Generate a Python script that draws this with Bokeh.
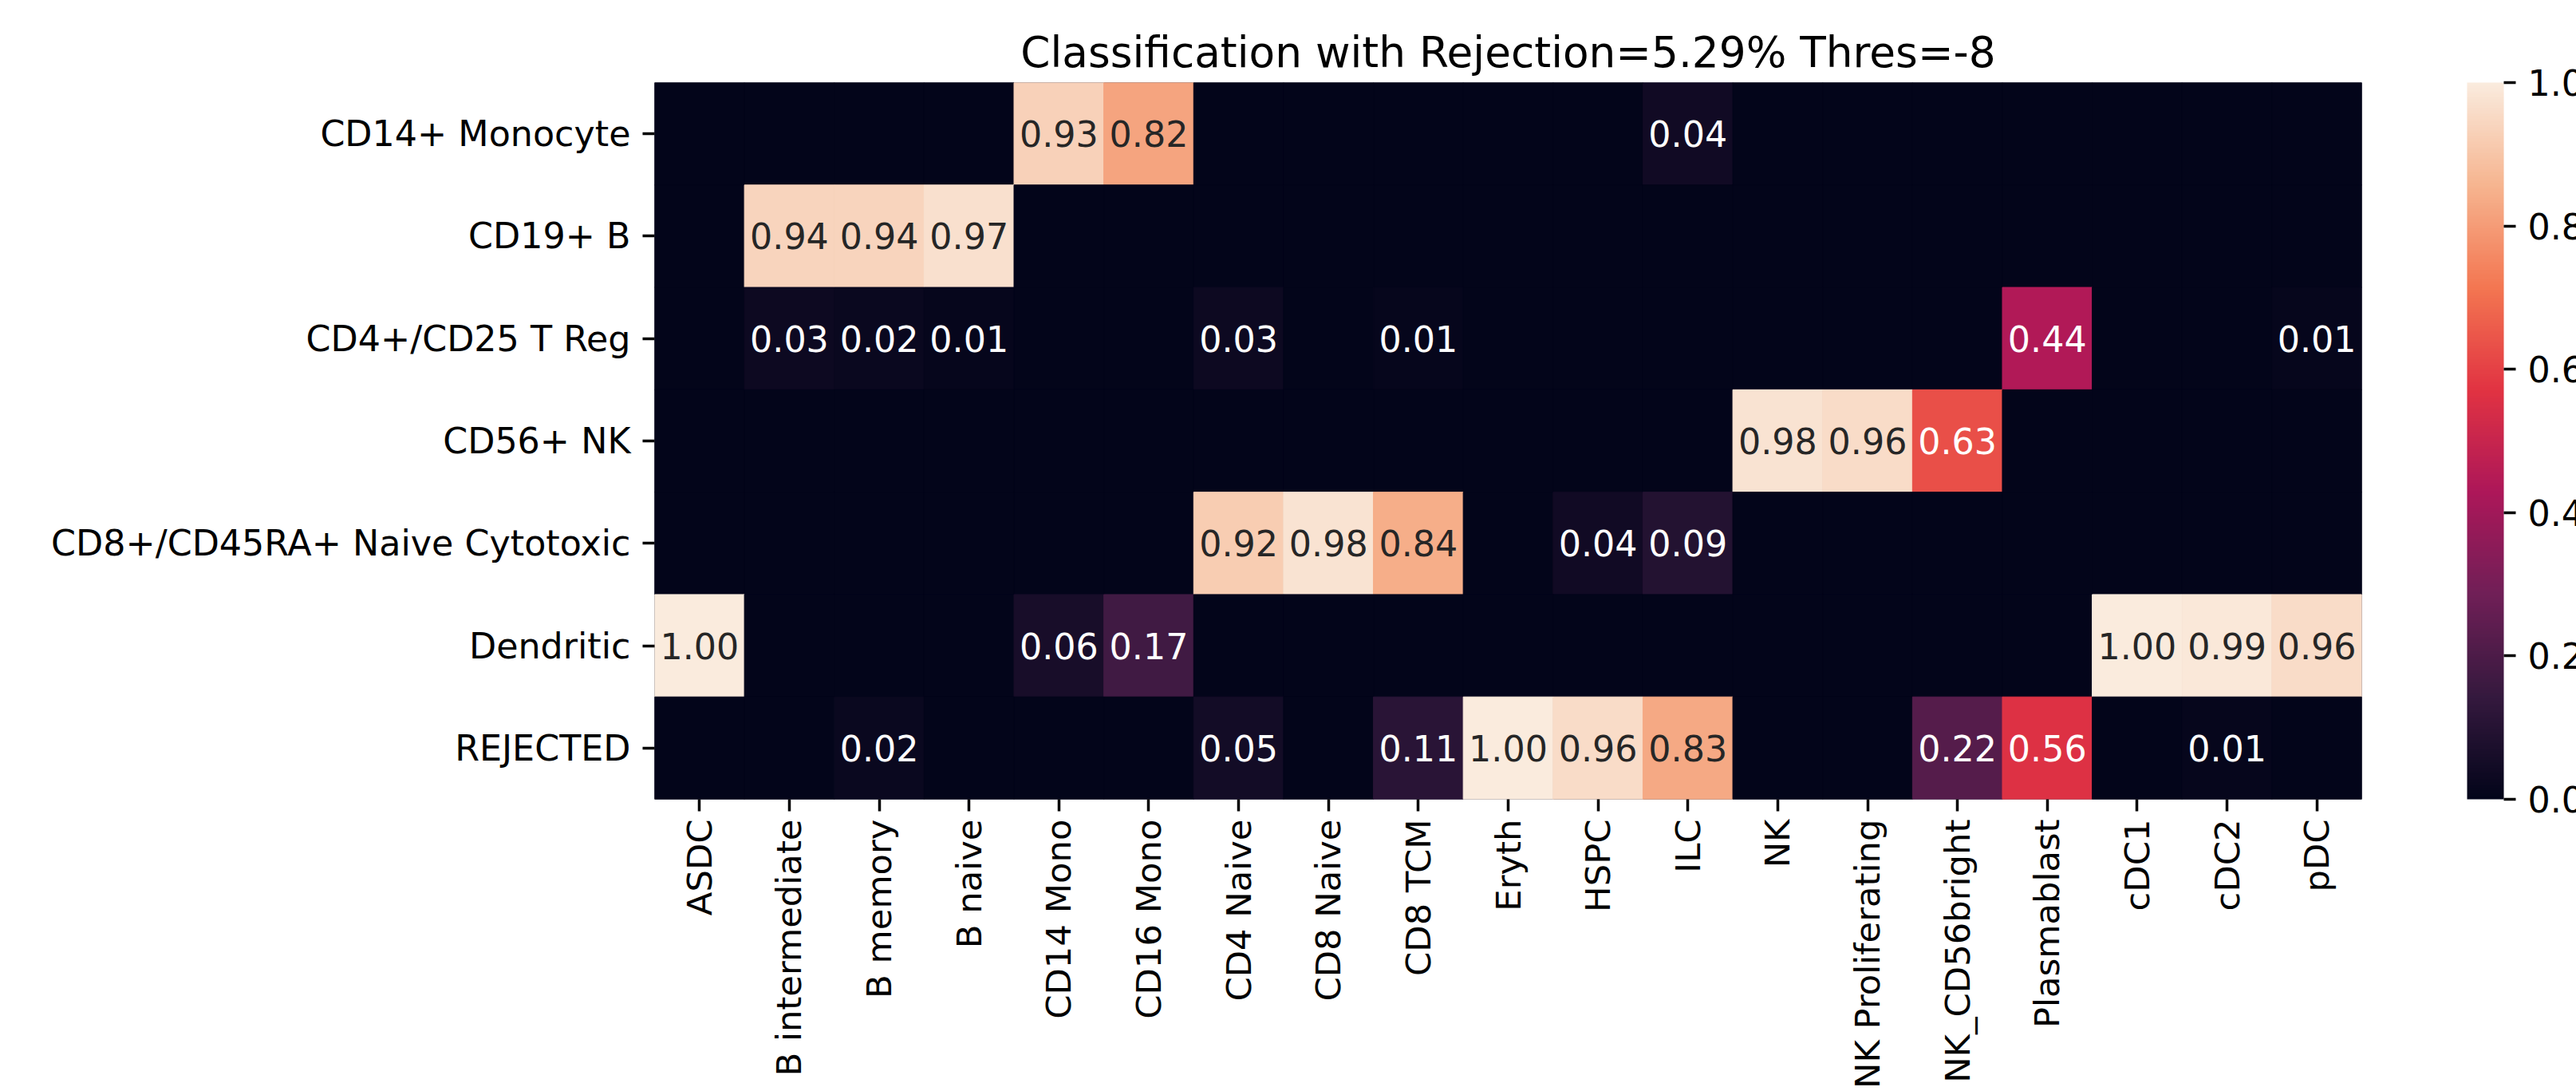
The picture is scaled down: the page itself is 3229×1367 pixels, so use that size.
import numpy as np
from bokeh.plotting import figure
from bokeh.models import (ColumnDataSource, LinearColorMapper, ColorBar, FixedTicker,
                          FactorRange, PrintfTickFormatter)
from bokeh.transform import transform
from bokeh.core.properties import value
from bokeh.embed import file_html
from bokeh.resources import INLINE

title_text = "Classification with Rejection=5.29% Thres=-8"

rows = ["CD14+ Monocyte", "CD19+ B", "CD4+/CD25 T Reg", "CD56+ NK",
        "CD8+/CD45RA+ Naive Cytotoxic", "Dendritic", "REJECTED"]
cols = ["ASDC", "B intermediate", "B memory", "B naive", "CD14 Mono", "CD16 Mono",
        "CD4 Naive", "CD8 Naive", "CD8 TCM", "Eryth", "HSPC", "ILC", "NK",
        "NK Proliferating", "NK_CD56bright", "Plasmablast", "cDC1", "cDC2", "pDC"]

cd14_monocyte = [0, 0, 0, 0, 0.93, 0.82, 0, 0, 0, 0, 0, 0.04, 0, 0, 0, 0, 0, 0, 0]
cd19_b        = [0, 0.94, 0.94, 0.97, 0, 0, 0, 0, 0, 0, 0, 0, 0, 0, 0, 0, 0, 0, 0]
cd4_treg      = [0, 0.03, 0.02, 0.01, 0, 0, 0.03, 0, 0.01, 0, 0, 0, 0, 0, 0, 0.44, 0, 0, 0.01]
cd56_nk       = [0, 0, 0, 0, 0, 0, 0, 0, 0, 0, 0, 0, 0.98, 0.96, 0.63, 0, 0, 0, 0]
cd8_naive     = [0, 0, 0, 0, 0, 0, 0.92, 0.98, 0.84, 0, 0.04, 0.09, 0, 0, 0, 0, 0, 0, 0]
dendritic     = [1.00, 0, 0, 0, 0.06, 0.17, 0, 0, 0, 0, 0, 0, 0, 0, 0, 0, 1.00, 0.99, 0.96]
rejected      = [0, 0, 0.02, 0, 0, 0, 0.05, 0, 0.11, 1.00, 0.96, 0.83, 0, 0, 0.22, 0.56, 0, 0.01, 0]

matrix = [cd14_monocyte, cd19_b, cd4_treg, cd56_nk, cd8_naive, dendritic, rejected]

cbar_ticks = [0.0, 0.2, 0.4, 0.6, 0.8, 1.0]

# approximate seaborn "rocket" colormap
anchor_pos = [0.0, 1/7, 2/7, 3/7, 4/7, 5/7, 6/7, 1.0]
anchor_hex = ["#03051a", "#35193e", "#701f57", "#ad1759", "#e13342", "#f37651", "#f6b48f", "#faebdd"]

def hex2rgb(h):
    return [int(h[i:i + 2], 16) for i in (1, 3, 5)]

anchor_rgb = np.array([hex2rgb(h) for h in anchor_hex], dtype=float)
grid = np.linspace(0, 1, 256)
pal_rgb = np.stack([np.interp(grid, anchor_pos, anchor_rgb[:, k]) for k in range(3)], axis=1)
palette = ["#%02x%02x%02x" % tuple(int(round(c)) for c in rgb) for rgb in pal_rgb]

def lum(rgb):
    c = np.array(rgb) / 255.0
    c = np.where(c <= 0.03928, c / 12.92, ((c + 0.055) / 1.055) ** 2.4)
    return 0.2126 * c[0] + 0.7152 * c[1] + 0.0722 * c[2]

xs, ys, vals, labels, tcolors = [], [], [], [], []
for r, rowvals in zip(rows, matrix):
    for c, v in zip(cols, rowvals):
        xs.append(c)
        ys.append(r)
        vals.append(v)
        labels.append("%.2f" % v if v > 0 else "")
        idx = int(round(v * 255))
        tcolors.append("#262626" if lum(pal_rgb[idx]) > 0.408 else "white")

src = ColumnDataSource(dict(x=xs, y=ys, v=vals, lab=labels, tc=tcolors))

mapper = LinearColorMapper(palette=palette, low=0.0, high=1.0)

FONT = "DejaVu Sans"
FS = "44.4px"

FRAME_W, FRAME_H = 2140, 898
W, H = 3229, 1367
LEFT, TOP = 820, 103

p = figure(width=W, height=H,
           x_range=FactorRange(*cols, range_padding=0),
           y_range=FactorRange(*reversed(rows), range_padding=0),
           output_backend="svg", toolbar_location=None,
           min_border_left=LEFT, min_border_right=W - LEFT - FRAME_W,
           min_border_top=TOP, min_border_bottom=H - TOP - FRAME_H)

p.title.text = title_text
p.title.align = "center"
p.title.text_font = FONT
p.title.text_font_size = "53.3px"
p.title.text_font_style = "normal"
p.title.text_color = "black"
p.title.standoff = 14

p.background_fill_color = "#03051a"
p.border_fill_color = "white"
p.outline_line_color = None
p.grid.grid_line_color = None

p.rect(x="x", y="y", width=1, height=1, source=src,
       fill_color=transform("v", mapper), line_color=transform("v", mapper), line_width=1)

p.text(x="x", y="y", text="lab", source=src, text_color="tc",
       text_align="center", text_baseline="middle",
       text_font=value(FONT), text_font_size=value(FS))

for ax in (p.xaxis[0], p.yaxis[0]):
    ax.axis_line_color = None
    ax.major_tick_in = 0
    ax.major_tick_out = 15
    ax.major_tick_line_color = "black"
    ax.major_tick_line_width = 3.5
    ax.minor_tick_line_color = None
    ax.major_label_text_font = FONT
    ax.major_label_text_font_size = FS
    ax.major_label_text_color = "black"
    ax.major_label_standoff = 15

p.xaxis.major_label_orientation = np.pi / 2
p.xaxis.major_label_text_font_size = "43.3px"
p.xaxis.major_label_standoff = 10

cb = ColorBar(color_mapper=mapper, ticker=FixedTicker(ticks=cbar_ticks),
              formatter=PrintfTickFormatter(format="%.1f"),
              width=46, height=FRAME_H, location=(FRAME_W + 132, 0), padding=0, margin=0,
              major_tick_in=0, major_tick_out=15, major_tick_line_color="black",
              major_tick_line_width=3.5, minor_tick_line_color=None,
              bar_line_color=None, border_line_color=None, background_fill_alpha=0,
              label_standoff=15, major_label_text_font=FONT,
              major_label_text_font_size=FS, major_label_text_color="black")
p.add_layout(cb, "center")

open("out.html", "w").write(file_html(p, INLINE))
